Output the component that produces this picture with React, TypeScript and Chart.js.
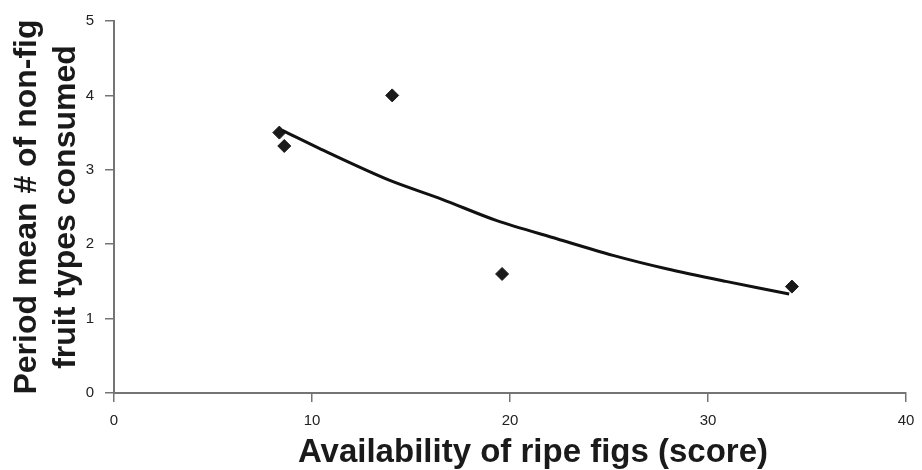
import React, { useEffect, useRef } from "react";
import { Chart, registerables } from "chart.js";

Chart.register(...registerables);

// Observed data points (diamonds)
const figScore = [8.35, 8.6, 14.05, 19.6, 34.24];
const nonFigTypes = [3.5, 3.32, 4.0, 1.6, 1.43];

// Trend line
const trendScore = [8.5, 10.9, 13.9, 16.6, 19.3, 22.4, 25.2, 27.9, 30.9, 34.1];
const trendTypes = [3.53, 3.22, 2.86, 2.6, 2.32, 2.07, 1.85, 1.67, 1.5, 1.33];

// Axis ticks
const xTicks = [0, 10, 20, 30, 40];
const yTicks = [0, 1, 2, 3, 4, 5];

const xTitle = "Availability of ripe figs (score)";
const yTitle = ["Period mean # of non-fig", "fruit types consumed"];

const FONT = '"Liberation Sans", Arial, Helvetica, sans-serif';
const AXIS_COLOR = "#747474";
const TEXT_COLOR = "#1a1a1a";

const titlesPlugin = {
  id: "axisTitles",
  afterDraw(chart: any) {
    const { ctx, chartArea } = chart;
    const cx = (chartArea.left + chartArea.right) / 2;
    const cy = (chartArea.top + chartArea.bottom) / 2;
    ctx.save();
    ctx.fillStyle = TEXT_COLOR;
    ctx.textBaseline = "alphabetic";
    ctx.textAlign = "center";
    ctx.font = `bold 33px ${FONT}`;
    ctx.fillText(xTitle, cx + 23, chartArea.bottom + 69);

    ctx.font = `bold 32px ${FONT}`;
    const baselines = [chartArea.left - 78.5, chartArea.left - 39];
    yTitle.forEach((line, i) => {
      ctx.save();
      ctx.translate(baselines[i], cy);
      ctx.rotate(-Math.PI / 2);
      ctx.fillText(line, 0, 0);
      ctx.restore();
    });
    ctx.restore();
  },
};

export default function App() {
  const ref = useRef<HTMLCanvasElement | null>(null);

  useEffect(() => {
    if (!ref.current) return;
    const chart = new Chart(ref.current, {
      type: "scatter",
      data: {
        datasets: [
          {
            type: "line",
            label: "Trend",
            data: trendScore.map((x, i) => ({ x, y: trendTypes[i] })),
            borderColor: "#111111",
            borderWidth: 3,
            pointRadius: 0,
            tension: 0.3,
            fill: false,
          } as any,
          {
            type: "scatter",
            label: "Observed",
            data: figScore.map((x, i) => ({ x, y: nonFigTypes[i] })),
            pointStyle: "rectRot",
            pointRadius: 6.5,
            pointBackgroundColor: "#1a1a1a",
            pointBorderColor: "#1a1a1a",
            pointBorderWidth: 1,
          },
        ],
      },
      options: {
        responsive: false,
        animation: false,
        devicePixelRatio: 1,
        layout: { padding: { left: 0, right: 16, top: 21, bottom: 0 } },
        plugins: {
          legend: { display: false },
          tooltip: { enabled: false },
          title: { display: false },
        },
        scales: {
          x: {
            type: "linear",
            min: 0,
            max: 40,
            afterBuildTicks: (scale: any) => {
              scale.ticks = xTicks.map((v) => ({ value: v }));
            },
            afterFit: (scale: any) => {
              scale.height = 77;
              scale.paddingLeft = 0;
              scale.paddingRight = 0;
            },
            ticks: {
              color: "#222222",
              font: { family: FONT, size: 15 },
              padding: 10,
              maxRotation: 0,
            },
            grid: {
              display: true,
              drawOnChartArea: false,
              drawTicks: true,
              tickLength: 9,
              color: AXIS_COLOR,
              lineWidth: 1.5,
            },
            border: { display: true, color: AXIS_COLOR, width: 2 },
          },
          y: {
            type: "linear",
            min: 0,
            max: 5,
            afterBuildTicks: (scale: any) => {
              scale.ticks = yTicks.map((v) => ({ value: v }));
            },
            afterFit: (scale: any) => {
              scale.width = 114;
              scale.paddingTop = 0;
              scale.paddingBottom = 0;
            },
            ticks: {
              color: "#222222",
              font: { family: FONT, size: 15 },
              padding: 11,
            },
            grid: {
              display: true,
              drawOnChartArea: false,
              drawTicks: true,
              tickLength: 9,
              color: AXIS_COLOR,
              lineWidth: 1.5,
            },
            border: { display: true, color: AXIS_COLOR, width: 2 },
          },
        },
      },
      plugins: [titlesPlugin],
    });
    return () => chart.destroy();
  }, []);

  return (
    <div style={{ position: "absolute", left: 0, top: 0, width: 922, height: 470, background: "#ffffff" }}>
      <canvas ref={ref} width={922} height={470} style={{ display: "block" }} />
    </div>
  );
}
